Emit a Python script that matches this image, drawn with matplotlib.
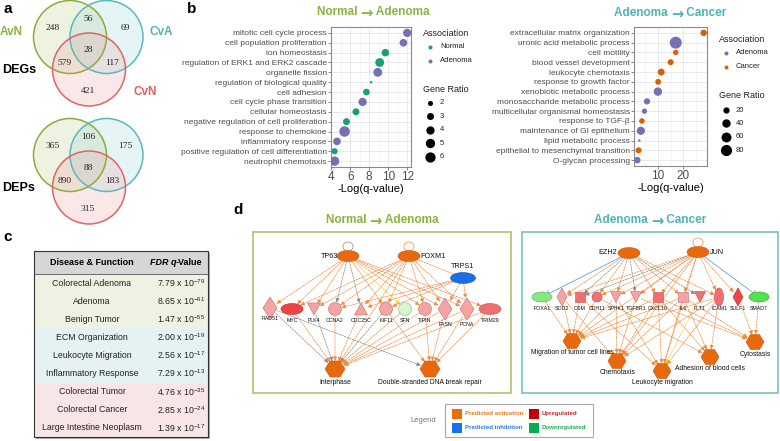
import matplotlib
matplotlib.use("Agg")
import matplotlib.pyplot as plt
import numpy as np
from matplotlib.patches import Circle, Ellipse, Polygon, Rectangle, Arc

plt.rcParams["font.family"] = ["Liberation Sans", "DejaVu Sans"]
plt.rcParams["mathtext.default"] = "regular"

# ---------------- data ----------------
venn_sets = ["AvN", "CvA", "CvN"]
# order: A only, A&B, B only, A&B&C, A&C, B&C, C only
venn_degs = [248, 56, 69, 28, 579, 117, 421]
venn_deps = [365, 106, 175, 88, 890, 183, 315]

na_terms = ["mitotic cell cycle process", "cell population proliferation", "ion homeostasis",
            "regulation of ERK1 and ERK2 cascade", "organelle fission",
            "regulation of biological quality", "cell adhesion", "cell cycle phase transition",
            "cellular homeostasis", "negative regulation of cell proliferation",
            "response to chemokine", "inflammatory response",
            "positive regulation of cell differentiation", "neutrophil chemotaxis"]
na_logq = [12.0, 11.6, 9.7, 9.1, 8.9, 8.2, 7.7, 7.3, 6.6, 5.6, 5.4, 4.6, 4.35, 4.35]
na_ratio = [4.0, 3.5, 3.4, 4.5, 4.5, 1.5, 2.8, 4.0, 3.0, 3.0, 6.3, 3.5, 2.5, 5.0]
na_assoc = ["Adenoma", "Adenoma", "Normal", "Normal", "Adenoma", "Normal", "Normal", "Adenoma",
            "Normal", "Normal", "Adenoma", "Adenoma", "Normal", "Adenoma"]

ac_terms = ["extracellular matrix organization", "uronic acid metabolic process", "cell motility",
            "blood vessel development", "leukocyte chemotaxis", "response to growth factor",
            "xenobiotic metabolic process", "monosaccharide metabolic process",
            "multicellular organismal homeostasis", "response to TGF-β",
            "maintenance of GI epithelium", "lipid metabolic process",
            "epithelial to mesenchymal transition", "O-glycan processing"]
ac_logq = [28.0, 17.0, 17.0, 15.0, 11.3, 10.1, 10.0, 5.7, 4.7, 3.7, 3.3, 2.7, 2.4, 1.9]
ac_ratio = [22, 95, 14, 18, 25, 17, 40, 20, 14, 15, 38, 6, 18, 22]
ac_assoc = ["Cancer", "Adenoma", "Cancer", "Cancer", "Cancer", "Cancer", "Adenoma", "Adenoma",
            "Adenoma", "Cancer", "Adenoma", "Adenoma", "Cancer", "Adenoma"]

table_terms = ["Colorectal Adenoma", "Adenoma", "Benign Tumor", "ECM Organization",
               "Leukocyte Migration", "Inflammatory Response", "Colorectal Tumor",
               "Colorectal Cancer", "Large Intestine Neoplasm"]
table_mant = [7.79, 8.65, 1.47, 2.00, 2.56, 7.29, 4.76, 2.85, 1.39]
table_exp = [-79, -61, -55, -19, -17, -13, -35, -24, -17]
table_group = [0, 0, 0, 1, 1, 1, 2, 2, 2]

na_nodes = {"TP63": "act", "FOXM1": "act", "TRPS1": "inh", "RAD51": "up", "MYC": "up3",
            "PLK4": "up", "CCNA2": "up", "CDC25C": "up", "KIF11": "up", "SFN": "down",
            "TIPIN": "up", "FASN": "up", "PCNA": "up", "TRIM29": "up2",
            "Interphase": "act", "Double-stranded DNA break repair": "act"}
na_edges = [("TP63", "TP63", "gray"), ("FOXM1", "FOXM1", "act"),
            ("TP63", "RAD51", "act"), ("TP63", "MYC", "act"), ("TP63", "PLK4", "act"),
            ("TP63", "CCNA2", "gray"), ("TP63", "CDC25C", "gray"), ("TP63", "KIF11", "act"),
            ("TP63", "SFN", "yellow"), ("TP63", "TIPIN", "act"), ("TP63", "FASN", "act"),
            ("TP63", "PCNA", "act"), ("TP63", "TRIM29", "act"),
            ("FOXM1", "MYC", "act"), ("FOXM1", "PLK4", "act"), ("FOXM1", "CCNA2", "act"),
            ("FOXM1", "CDC25C", "act"), ("FOXM1", "KIF11", "act"), ("FOXM1", "TIPIN", "act"),
            ("FOXM1", "FASN", "act"), ("FOXM1", "PCNA", "act"), ("FOXM1", "Interphase", "act"),
            ("TRPS1", "FOXM1", "inh_o"), ("TRPS1", "CCNA2", "act"), ("TRPS1", "CDC25C", "act"),
            ("TRPS1", "KIF11", "act"), ("TRPS1", "FASN", "act"), ("TRPS1", "PCNA", "act"),
            ("RAD51", "Interphase", "gray"), ("MYC", "Interphase", "act"),
            ("PLK4", "Interphase", "gray"), ("CCNA2", "Interphase", "act"),
            ("CDC25C", "Interphase", "act"), ("KIF11", "Interphase", "gray"),
            ("SFN", "Interphase", "act"), ("TIPIN", "Interphase", "act"),
            ("FASN", "Interphase", "act"), ("PCNA", "Interphase", "act"),
            ("TRIM29", "Interphase", "act"),
            ("RAD51", "Double-stranded DNA break repair", "gray"),
            ("KIF11", "Double-stranded DNA break repair", "act"),
            ("TIPIN", "Double-stranded DNA break repair", "act"),
            ("FASN", "Double-stranded DNA break repair", "act"),
            ("PCNA", "Double-stranded DNA break repair", "act"),
            ("TRIM29", "Double-stranded DNA break repair", "act")]

ac_nodes = {"EZH2": "act", "JUN": "act", "FOXA1": "down2", "SOD2": "up", "OSM": "up2",
            "CDH11": "up2", "SPHK1": "up", "TGFBR1": "up", "CXCL10": "up2", "IL6": "up",
            "FLT1": "up2", "ICAM1": "up2", "SULF1": "up3", "SMAD7": "down3",
            "Migration of tumor cell lines": "act", "Chemotaxis": "act",
            "Leukocyte migration": "act", "Adhesion of blood cells": "act", "Cytostasis": "act"}
ac_edges = [("JUN", "JUN", "act"),
            ("EZH2", "FOXA1", "inh"), ("EZH2", "SOD2", "act"), ("EZH2", "OSM", "gray"),
            ("EZH2", "CDH11", "act"), ("EZH2", "SPHK1", "act"), ("EZH2", "TGFBR1", "gray"),
            ("EZH2", "CXCL10", "act"), ("EZH2", "IL6", "act"), ("EZH2", "FLT1", "gray"),
            ("EZH2", "ICAM1", "act"),
            ("JUN", "SOD2", "act"), ("JUN", "OSM", "gray"), ("JUN", "CDH11", "act"),
            ("JUN", "SPHK1", "act"), ("JUN", "TGFBR1", "act"), ("JUN", "CXCL10", "act"),
            ("JUN", "IL6", "act"), ("JUN", "ICAM1", "act"), ("JUN", "SULF1", "act"),
            ("JUN", "SMAD7", "inh"), ("JUN", "Migration of tumor cell lines", "act"),
            ("JUN", "Chemotaxis", "act"), ("JUN", "Leukocyte migration", "act"),
            ("FOXA1", "Migration of tumor cell lines", "act"),
            ("SOD2", "Migration of tumor cell lines", "act"),
            ("OSM", "Migration of tumor cell lines", "act"),
            ("CDH11", "Migration of tumor cell lines", "act"),
            ("SPHK1", "Migration of tumor cell lines", "act"),
            ("CXCL10", "Migration of tumor cell lines", "act"),
            ("IL6", "Migration of tumor cell lines", "act"),
            ("ICAM1", "Migration of tumor cell lines", "act"),
            ("SOD2", "Chemotaxis", "act"), ("SPHK1", "Chemotaxis", "act"),
            ("TGFBR1", "Chemotaxis", "act"), ("CXCL10", "Chemotaxis", "act"),
            ("IL6", "Chemotaxis", "act"), ("ICAM1", "Chemotaxis", "act"),
            ("OSM", "Leukocyte migration", "act"), ("SPHK1", "Leukocyte migration", "act"),
            ("CXCL10", "Leukocyte migration", "act"), ("IL6", "Leukocyte migration", "act"),
            ("FLT1", "Leukocyte migration", "yellow"), ("ICAM1", "Leukocyte migration", "act"),
            ("CDH11", "Adhesion of blood cells", "act"), ("CXCL10", "Adhesion of blood cells", "act"),
            ("IL6", "Adhesion of blood cells", "act"), ("ICAM1", "Adhesion of blood cells", "act"),
            ("TGFBR1", "Cytostasis", "act"), ("CXCL10", "Cytostasis", "act"),
            ("IL6", "Cytostasis", "act"), ("SULF1", "Cytostasis", "act"),
            ("SMAD7", "Cytostasis", "act")]

legend_labels = ["Predicted activation", "Predicted inhibition", "Upregulated", "Downregulated"]
title_na = ("Normal", "Adenoma")
title_ac = ("Adenoma", "Cancer")

# ---------------- styles / layout ----------------
GREEN_T, TEAL_T, RED_T = "#8db33f", "#4fb4b3", "#e06060"
ASSOC_COL = {"Normal": "#1b9e77", "Adenoma": "#7570b3", "Cancer": "#d95f02"}
STATE = {"act": ("#e8680e", "#c85a10"), "inh": ("#1a6ee6", "#1458b8"),
         "up": ("#f5a3a3", "#c07070"), "up2": ("#f07070", "#c05050"), "up3": ("#ee4444", "#b03030"),
         "down": ("#d8f5d2", "#90b090"), "down2": ("#86e880", "#60a060"),
         "down3": ("#4ee44e", "#30a030")}
EDGE = {"act": "#f08a3c", "gray": "#8a8a8a", "yellow": "#f0d020", "inh": "#4a8fe0",
        "inh_o": "#f08a3c"}

fig = plt.figure(figsize=(7.8, 4.41), dpi=100)
ov = fig.add_axes([0, 0, 1, 1], zorder=0)
ov.set_xlim(0, 780)
ov.set_ylim(441, 0)
ov.axis("off")
renderer = fig.canvas.get_renderer()


def px_rect(x0, y0, x1, y1):
    return [x0 / 780, 1 - y1 / 441, (x1 - x0) / 780, (y1 - y0) / 441]


def arrow_title(xc, y, parts, color, size=8.5):
    # "left → right", centred on xc; the arrow comes from DejaVu Sans
    kw = dict(fontweight="bold", color=color, va="center")
    t1 = ov.text(0, y, parts[0] + " ", ha="left", fontsize=size, **kw)
    ta = ov.text(0, y + 0.5, "→", ha="left", family="DejaVu Sans", fontsize=size * 1.25, **kw)
    t2 = ov.text(0, y, " " + parts[1], ha="left", fontsize=size, **kw)
    w = [t.get_window_extent(renderer).width for t in (t1, ta, t2)]
    x = xc - sum(w) / 2
    for t, wi in zip((t1, ta, t2), w):
        t.set_x(x)
        x += wi


# panel letters
for lab, (x, y) in zip("abcd", [(3, 9), (187, 9), (3, 237), (233, 210)]):
    ov.text(x, y, lab, fontsize=11, fontweight="heavy", va="center", ha="left")

# ---------------- panel a: Venn ----------------
venn_fill = ["#b4c878", "#8ccdd0", "#ec9a9a"]
venn_edge = ["#8aad3c", "#5cb8bb", "#e06464"]
circ_off = [(0, 0), (36.5, 0), (19, 32.5)]
num_off = [(-17, -9), (18, -18), (55, -9), (18, 13), (-5, 26), (42, 26), (18, 54)]
for (ox, oy), counts, name in [((70, 37), venn_degs, "DEGs"), ((70, 155), venn_deps, "DEPs")]:
    for (dx, dy), fc, ec in zip(circ_off, venn_fill, venn_edge):
        ov.add_patch(Circle((ox + dx, oy + dy), 36.5, fc=fc, ec="none", alpha=0.22))
    for (dx, dy), ec in zip(circ_off, venn_edge):
        ov.add_patch(Circle((ox + dx, oy + dy), 36.5, fc="none", ec=ec, lw=1.1))
    for (dx, dy), c in zip(num_off, counts):
        ov.text(ox + dx, oy + dy, str(c), fontsize=6.8, family="Liberation Serif",
                ha="center", va="center", color="#222222")
    ov.text(2, oy + 33, name, fontsize=9, fontweight="bold", va="center")
ov.text(0, 32, venn_sets[0], fontsize=8.5, fontweight="bold", color=GREEN_T, va="center")
ov.text(150, 32, venn_sets[1], fontsize=8.5, fontweight="bold", color=TEAL_T, va="center")
ov.text(133, 92, venn_sets[2], fontsize=8.5, fontweight="bold", color=RED_T, va="center")

# ---------------- panel b: dot plots ----------------


def diam(r, rmin, rmax, dmin, dmax):
    return dmin + (dmax - dmin) * np.sqrt(np.clip((np.asarray(r, float) - rmin) / (rmax - rmin), 0, 1))


def area(d):
    return (np.asarray(d) * 0.72) ** 2


def dot_panel(box, terms, vals, ratio, assoc, xlim, major, minor, sz):
    ax = fig.add_axes(px_rect(*box), zorder=2)
    n = len(terms)
    y = np.arange(n)[::-1]
    ax.scatter(vals, y, s=area(diam(ratio, *sz)), c=[ASSOC_COL[a] for a in assoc],
               linewidths=0, zorder=3)
    ax.set_xlim(*xlim)
    ax.set_ylim(-0.6, n - 0.4)
    ax.set_yticks(y)
    ax.set_yticklabels(terms, fontsize=6, color="#4d4d4d")
    ax.set_xticks(major)
    ax.set_xticks(minor, minor=True)
    ax.set_xticklabels([str(m) for m in major], fontsize=8.5, color="#4d4d4d")
    ax.grid(which="major", color="#e6e6e6", lw=0.6)
    ax.grid(which="minor", axis="x", color="#f0f0f0", lw=0.4)
    ax.set_axisbelow(True)
    ax.tick_params(axis="both", which="major", length=2, width=0.5, color="#555555", pad=1)
    ax.tick_params(axis="x", which="minor", length=0)
    for s in ax.spines.values():
        s.set_color("#8a8a8a")
        s.set_linewidth(0.8)
    ax.set_xlabel("-Log(q-value)", fontsize=8, labelpad=0.5)
    return ax


na_sz = (1.5, 6.3, 2.5, 10.5)
ac_sz = (6, 95, 2.5, 12.0)
dot_panel((331, 27, 411, 167), na_terms, na_logq, na_ratio, na_assoc, (3.97, 12.4),
          [4, 6, 8, 10, 12], [5, 7, 9, 11], na_sz)
dot_panel((634, 27, 707, 166), ac_terms, ac_logq, ac_ratio, ac_assoc, (0.6, 29.3),
          [10, 20], [5, 15, 25], ac_sz)
arrow_title(373, 12, title_na, GREEN_T)
arrow_title(670, 13, title_ac, TEAL_T)


def dot_legend(x, y_assoc, classes, y_size, sizes, sz):
    ov.text(x, y_assoc, "Association", fontsize=6.5, va="center", color="#222222")
    for i, c in enumerate(classes):
        yy = y_assoc + 14 + 14 * i
        ov.scatter([x + 7], [yy], s=area(4), c=ASSOC_COL[c], linewidths=0)
        ov.text(x + 17, yy, c, fontsize=5.5, va="center", color="#222222")
    ov.text(x, y_size, "Gene Ratio", fontsize=6.5, va="center", color="#222222")
    for i, v in enumerate(sizes):
        yy = y_size + 14 + 13.4 * i
        ov.scatter([x + 7], [yy], s=area(diam(v, *sz)), c="black", linewidths=0)
        ov.text(x + 17, yy, str(v), fontsize=5.5, va="center", color="#222222")


dot_legend(423, 33, ["Normal", "Adenoma"], 89, [2, 3, 4, 5, 6], na_sz)
dot_legend(719, 39, ["Adenoma", "Cancer"], 96, [20, 40, 60, 80], ac_sz)

# ---------------- panel c: table ----------------
tx0, tx1, ty0, hh, rh = 34, 208, 251, 23, 18.1
ty1 = ty0 + hh + rh * len(table_terms)
row_fill = ["#eef2e3", "#e5f1f2", "#f8e5e5"]
ov.add_patch(Rectangle((tx0 + 2, ty0 + 2), tx1 - tx0, ty1 - ty0, fc="#a8a8a8", ec="none"))
ov.add_patch(Rectangle((tx0, ty0), tx1 - tx0, hh, fc="#d6d6d6", ec="none"))
for i, g in enumerate(table_group):
    yy = ty0 + hh + rh * i
    ov.add_patch(Rectangle((tx0, yy), tx1 - tx0, rh, fc=row_fill[g], ec="none"))
    ov.text(92, yy + rh / 2, table_terms[i], fontsize=6.3, ha="center", va="center",
            color="#222222")
    ov.text(181, yy + rh / 2, f"{table_mant[i]:.2f} x 10$^{{{table_exp[i]}}}$", fontsize=6.3,
            ha="center", va="center", color="#222222")
ov.add_patch(Rectangle((tx0, ty0), tx1 - tx0, ty1 - ty0, fc="none", ec="#333333", lw=0.8))
ov.plot([tx0, tx1], [ty0 + hh, ty0 + hh], color="#555555", lw=0.6)
ov.text(92, ty0 + hh / 2, "Disease & Function", fontsize=6.5, fontweight="bold",
        ha="center", va="center")
ov.text(176, ty0 + hh / 2, "FDR q", fontsize=6.5, fontweight="bold", style="italic",
        ha="right", va="center")
ov.text(176, ty0 + hh / 2, "-Value", fontsize=6.5, fontweight="bold", ha="left", va="center")

# ---------------- panel d: networks ----------------
na_layout = {
    "TP63": ("ellipse", 348, 256, 22, 11, (-10, 0, "right")),
    "FOXM1": ("ellipse", 409, 256, 22, 11, (11, 0, "left")),
    "TRPS1": ("ellipse", 463, 278, 25, 11, (0, -11, "center")),
    "RAD51": ("diamond", 270, 308, 14, 22, (0, 10, "center")),
    "MYC": ("ellipse", 292, 309, 22, 11, (0, 12, "center")),
    "PLK4": ("tri_down", 314, 309, 13, 12, (0, 12, "center")),
    "CCNA2": ("circle", 335, 309, 13, 13, (0, 12, "center")),
    "CDC25C": ("tri_up", 361, 309, 13, 12, (0, 12, "center")),
    "KIF11": ("circle", 386, 309, 13, 13, (0, 12, "center")),
    "SFN": ("circle", 405, 309, 13, 13, (0, 12, "center")),
    "TIPIN": ("circle", 425, 309, 13, 13, (0, 12, "center")),
    "FASN": ("diamond", 445, 309, 14, 22, (0, 15, "center")),
    "PCNA": ("diamond", 467, 309, 14, 22, (0, 15, "center")),
    "TRIM29": ("ellipse", 490, 309, 22, 11, (0, 12, "center")),
    "Interphase": ("hex", 335, 369, 20, 16, (0, 14, "center")),
    "Double-stranded DNA break repair": ("hex", 430, 369, 20, 16, (0, 14, "center")),
}
ac_layout = {
    "EZH2": ("ellipse", 629, 253, 22, 11, (-12, 0, "right")),
    "JUN": ("ellipse", 698, 252, 22, 11, (12, 0, "left")),
    "FOXA1": ("ellipse", 542, 297, 20, 10, (0, 11, "center")),
    "SOD2": ("diamond", 562, 297, 10, 18, (0, 11, "center")),
    "OSM": ("square", 580, 297, 10, 10, (0, 11, "center")),
    "CDH11": ("circle", 597, 297, 10, 10, (0, 11, "center")),
    "SPHK1": ("tri_down", 616, 297, 11, 11, (0, 11, "center")),
    "TGFBR1": ("tri_down", 636, 297, 11, 11, (0, 11, "center")),
    "CXCL10": ("square", 658, 297, 10, 10, (0, 11, "center")),
    "IL6": ("square", 683, 297, 10, 10, (0, 11, "center")),
    "FLT1": ("tri_down", 700, 297, 11, 11, (0, 11, "center")),
    "ICAM1": ("ellipse", 719, 297, 9, 18, (0, 11, "center")),
    "SULF1": ("diamond", 738, 297, 10, 18, (0, 11, "center")),
    "SMAD7": ("ellipse", 759, 297, 20, 10, (0, 11, "center")),
    "Migration of tumor cell lines": ("hex", 572, 341, 18, 15, (0, 12, "center")),
    "Chemotaxis": ("hex", 617, 361, 18, 15, (0, 12, "center")),
    "Leukocyte migration": ("hex", 662, 371, 18, 15, (0, 12, "center")),
    "Adhesion of blood cells": ("hex", 710, 357, 18, 15, (0, 12, "center")),
    "Cytostasis": ("hex", 755, 342, 18, 15, (0, 12, "center")),
}
big_labels = {"TP63", "FOXM1", "TRPS1", "EZH2", "JUN"}


def node_patch(kind, x, y, w, h, fc, ec):
    if kind in ("ellipse", "circle"):
        return Ellipse((x, y), w, h, fc=fc, ec=ec, lw=0.4)
    if kind == "square":
        return Rectangle((x - w / 2, y - h / 2), w, h, fc=fc, ec=ec, lw=0.4)
    if kind == "diamond":
        pts = [(x, y - h / 2), (x + w / 2, y), (x, y + h / 2), (x - w / 2, y)]
    elif kind == "tri_down":
        pts = [(x - w / 2, y - h / 2), (x + w / 2, y - h / 2), (x, y + h / 2)]
    elif kind == "tri_up":
        pts = [(x - w / 2, y + h / 2), (x + w / 2, y + h / 2), (x, y - h / 2)]
    else:
        pts = [(x - w / 2, y), (x - w / 4, y - h / 2), (x + w / 4, y - h / 2), (x + w / 2, y),
               (x + w / 4, y + h / 2), (x - w / 4, y + h / 2)]
    return Polygon(pts, closed=True, fc=fc, ec=ec, lw=0.4)


def edge_pt(lay, ux, uy):
    _, x, y, w, h, _ = lay
    r = 1.0 / np.sqrt((ux / (w / 2)) ** 2 + (uy / (h / 2)) ** 2)
    return x + ux * r, y + uy * r


def draw_network(nodes, edges, layout):
    for s, d, kind in edges:
        ls, ld = layout[s], layout[d]
        col = EDGE[kind]
        if s == d:
            _, x, y, w, h, _ = ls
            ov.add_patch(Arc((x, y - h / 2 - 4), 10, 9, theta1=120, theta2=420,
                             color=col, lw=0.5, zorder=2))
            continue
        vx, vy = ld[1] - ls[1], ld[2] - ls[2]
        L = np.hypot(vx, vy)
        ux, uy = vx / L, vy / L
        p0 = edge_pt(ls, ux, uy)
        p1 = edge_pt(ld, -ux, -uy)
        if kind in ("inh", "inh_o"):
            style = "|-|,widthA=0,widthB=0.25"
            lstyle = "-" if kind == "inh" else (0, (2.5, 1.5))
        else:
            style = "-|>,head_length=0.25,head_width=0.12"
            lstyle = (0, (2.5, 1.5))
        ov.annotate("", xy=p1, xytext=p0,
                    arrowprops=dict(arrowstyle=style, color=col, lw=0.5, linestyle=lstyle,
                                    shrinkA=0, shrinkB=0), zorder=2)
    for name, state in nodes.items():
        kind, x, y, w, h, (dx, dy, ha) = layout[name]
        fc, ec = STATE[state]
        p = node_patch(kind, x, y, w, h, fc, ec)
        p.set_zorder(3)
        ov.add_patch(p)
        big = name in big_labels
        func = kind == "hex"
        ov.text(x + dx, y + dy, name, fontsize=5.2 if big else (4.9 if func else 3.8),
                ha=ha, va="center", color="#111111", zorder=4)


ov.add_patch(Rectangle((253, 232), 258, 161, fc="none", ec="#a9c66c", lw=1.2))
ov.add_patch(Rectangle((522, 232), 256, 161, fc="none", ec="#74c2c2", lw=1.2))
arrow_title(382, 220, title_na, GREEN_T)
arrow_title(650, 220, title_ac, TEAL_T)
draw_network(na_nodes, na_edges, na_layout)
draw_network(ac_nodes, ac_edges, ac_layout)

# legend
ov.text(410, 420, "Legend", fontsize=5.5, color="#777777", va="center")
ov.add_patch(Rectangle((445, 404), 148, 33, fc="white", ec="#aaaaaa", lw=0.8))
leg_sq = ["#e8700a", "#1a6ff0", "#c00000", "#00b050"]
leg_tx = ["#ec7a1c", "#2a78ee", "#d02828", "#20b050"]
leg_xy = [(452, 409), (452, 423), (529, 409), (529, 423)]
for lab, sc, tc, (x, y) in zip(legend_labels, leg_sq, leg_tx, leg_xy):
    ov.add_patch(Rectangle((x, y), 9.5, 9.5, fc=sc, ec="none"))
    ov.text(x + 13, y + 4.8, lab, fontsize=4.4, fontweight="bold", color=tc, va="center")

fig.savefig("out.png", dpi=100)
